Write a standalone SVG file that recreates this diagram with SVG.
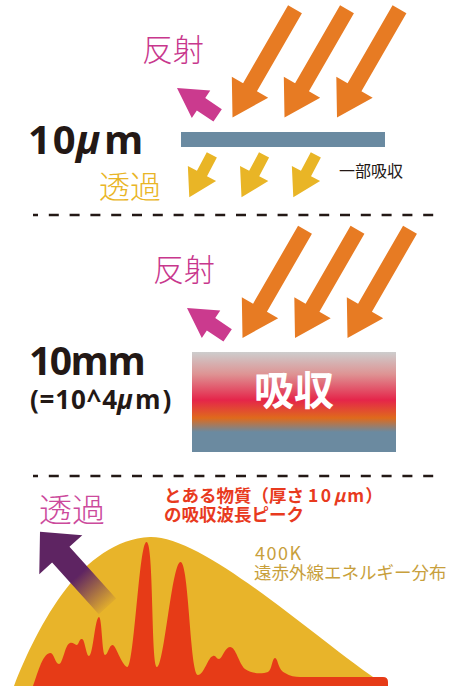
<svg xmlns="http://www.w3.org/2000/svg" width="463" height="686" viewBox="0 0 463 686">
  <defs>
    <style>
      .jp { font-family: "Noto Sans CJK JP", sans-serif; }
      .lat { font-family: "Open Sans", "Liberation Sans", sans-serif; font-weight: 700; fill: #231815; }
      .dash { stroke: #231815; stroke-width: 2.6; stroke-dasharray: 10 10.8; stroke-dashoffset: 5; fill: none; }
      .orange { fill: #e77b23; }
      .magenta { fill: #cb3a8e; }
      .yellow { fill: #e9b526; }
    </style>
    <!-- arrow shapes, pointing along +x with the tip at the origin -->
    <path id="bigArrow" d="M0,0 L-35,-21 L-35,-8 L-125,-8 L-125,8 L-35,8 L-35,21 Z"/>
    <path id="smallArrow" d="M0,0 L-27,-16 L-27,-5.7 L-48,-5.7 L-48,5.7 L-27,5.7 L-27,16 Z"/>
    <path id="reflectArrow" d="M0,0 L-29,-16.5 L-29,-7.5 L-49,-7.5 L-49,7.5 L-29,7.5 L-29,16.5 Z"/>
    <linearGradient id="absorbGrad" x1="0" y1="0" x2="0" y2="1">
      <stop offset="0" stop-color="#cdcdcd"/>
      <stop offset="0.22" stop-color="#de9494"/>
      <stop offset="0.48" stop-color="#e5254a"/>
      <stop offset="0.66" stop-color="#df6a1c"/>
      <stop offset="0.80" stop-color="#6b8aa0"/>
      <stop offset="1" stop-color="#6b8aa0"/>
    </linearGradient>
    <linearGradient id="passGrad" gradientUnits="userSpaceOnUse" x1="-100" y1="0" x2="0" y2="0">
      <stop offset="0" stop-color="#5e2462" stop-opacity="0.08"/>
      <stop offset="0.42" stop-color="#5e2462" stop-opacity="1"/>
      <stop offset="1" stop-color="#5e2462" stop-opacity="1"/>
    </linearGradient>
  </defs>

  <!-- thin film: 10 µm -->
  <g id="thin-film">
    <rect x="181" y="132" width="204" height="15" fill="#6a8aa1"/>
    <g id="incident-top" class="orange">
      <use href="#bigArrow" transform="translate(232.5,117.5) rotate(120)"/>
      <use href="#bigArrow" transform="translate(284.5,117.5) rotate(120)"/>
      <use href="#bigArrow" transform="translate(337,117.5) rotate(120)"/>
    </g>
    <use class="magenta" href="#reflectArrow" transform="translate(177,88) rotate(214)"/>
    <g id="transmit-top" class="yellow">
      <use href="#smallArrow" transform="translate(189.3,197.3) rotate(118)"/>
      <use href="#smallArrow" transform="translate(241.5,197.3) rotate(118)"/>
      <use href="#smallArrow" transform="translate(293.3,197.3) rotate(118)"/>
    </g>
    <text class="jp" x="142" y="61" font-size="31" font-weight="300" fill="#c8378d">反射</text>
    <text class="lat" y="154" font-size="40"><tspan x="28" letter-spacing="2">10</tspan><tspan x="76" font-style="italic">μ</tspan><tspan x="104">m</tspan></text>
    <text class="jp" x="99" y="198" font-size="31" font-weight="300" fill="#e9b526">透過</text>
    <text class="jp" x="339" y="177" font-size="16" fill="#231815">一部吸収</text>
  </g>

  <line class="dash" x1="33" y1="215" x2="435" y2="215"/>

  <!-- thick block: 10 mm -->
  <g id="thick-block">
    <rect x="192" y="352" width="204" height="100" fill="url(#absorbGrad)"/>
    <text class="jp" x="294" y="405" font-size="40" font-weight="700" fill="#ffffff" text-anchor="middle">吸収</text>
    <g id="incident-mid" class="orange">
      <use href="#bigArrow" transform="translate(242.5,338) rotate(120)"/>
      <use href="#bigArrow" transform="translate(295,338) rotate(120)"/>
      <use href="#bigArrow" transform="translate(347.5,338) rotate(120)"/>
    </g>
    <use class="magenta" href="#reflectArrow" transform="translate(187,308) rotate(214)"/>
    <text class="jp" x="153" y="281" font-size="31" font-weight="300" fill="#c8378d">反射</text>
    <text class="lat" x="29" y="375" font-size="39" letter-spacing="-1.5">10mm</text>
    <text class="lat" y="409" font-size="26"><tspan x="30" letter-spacing="0.8">(=10^4</tspan><tspan x="117" font-style="italic">μ</tspan><tspan x="135" letter-spacing="2">m)</tspan></text>
  </g>

  <line class="dash" x1="33" y1="476" x2="435" y2="476"/>

  <!-- spectrum: 400 K emission vs absorption peaks -->
  <g id="spectrum">
    <path d="M14,686 C38,625 82,540 150,537 C205,536 310,635 386,686 Z" fill="#e8b42a"/>
    <path fill="#e63b17" d="M33,686
      C37,676 42,654 50,653
      C54,652 55,664 59,664
      C63,664 65,644 70,643
      C74,642 76,647 78,644
      C80,640 80,639 82,639
      C85,639 86,656 89,656
      C93,656 95,617 99,617
      C102,617 102,655 105,655
      C108,655 109,645 112.5,645
      C116,645 121,664 127,667
      C134,671 139,542 146.5,542
      C154,542 151,667 157,667
      C164,667 172,562 180.5,562
      C189,562 190,675 198,675
      C204,675 208,657 213,656
      C216,655 216,659 219,659
      C222,659 225,647 230,647
      C236,647 239,664 245,669
      C252,674 262,674 268,672
      C272,670 272,658 275,658
      C278,658 278,670 285,673
      C290,676 295,677 300,677
      L383,677 Q388,677 388,682 L388,686 Z"/>
    <path fill="url(#passGrad)" d="M0,0 L-31,-29 L-31,-11.7 L-100.6,-11.7 L-100.6,11.7 L-31,11.7 L-31,29 Z" transform="translate(40,531.7) rotate(227.9)"/>
    <text class="jp" x="39" y="522" font-size="33" font-weight="300" fill="#cc4a9c">透過</text>
    <text class="jp" x="164" y="502" font-size="17.5" font-weight="700" fill="#e83a1e">とある物質（厚さ <tspan letter-spacing="2.5">10</tspan><tspan font-style="italic" letter-spacing="2">μ</tspan><tspan letter-spacing="1">m</tspan>）</text>
    <text class="jp" x="164" y="520.5" font-size="17.5" font-weight="700" fill="#e83a1e">の吸収波長ピーク</text>
    <text class="jp" x="255" y="560" font-size="18" letter-spacing="1.5" fill="#c8a03c">400K</text>
    <text class="jp" x="254" y="579" font-size="17.5" fill="#c8a03c">遠赤外線エネルギー分布</text>
  </g>
</svg>
